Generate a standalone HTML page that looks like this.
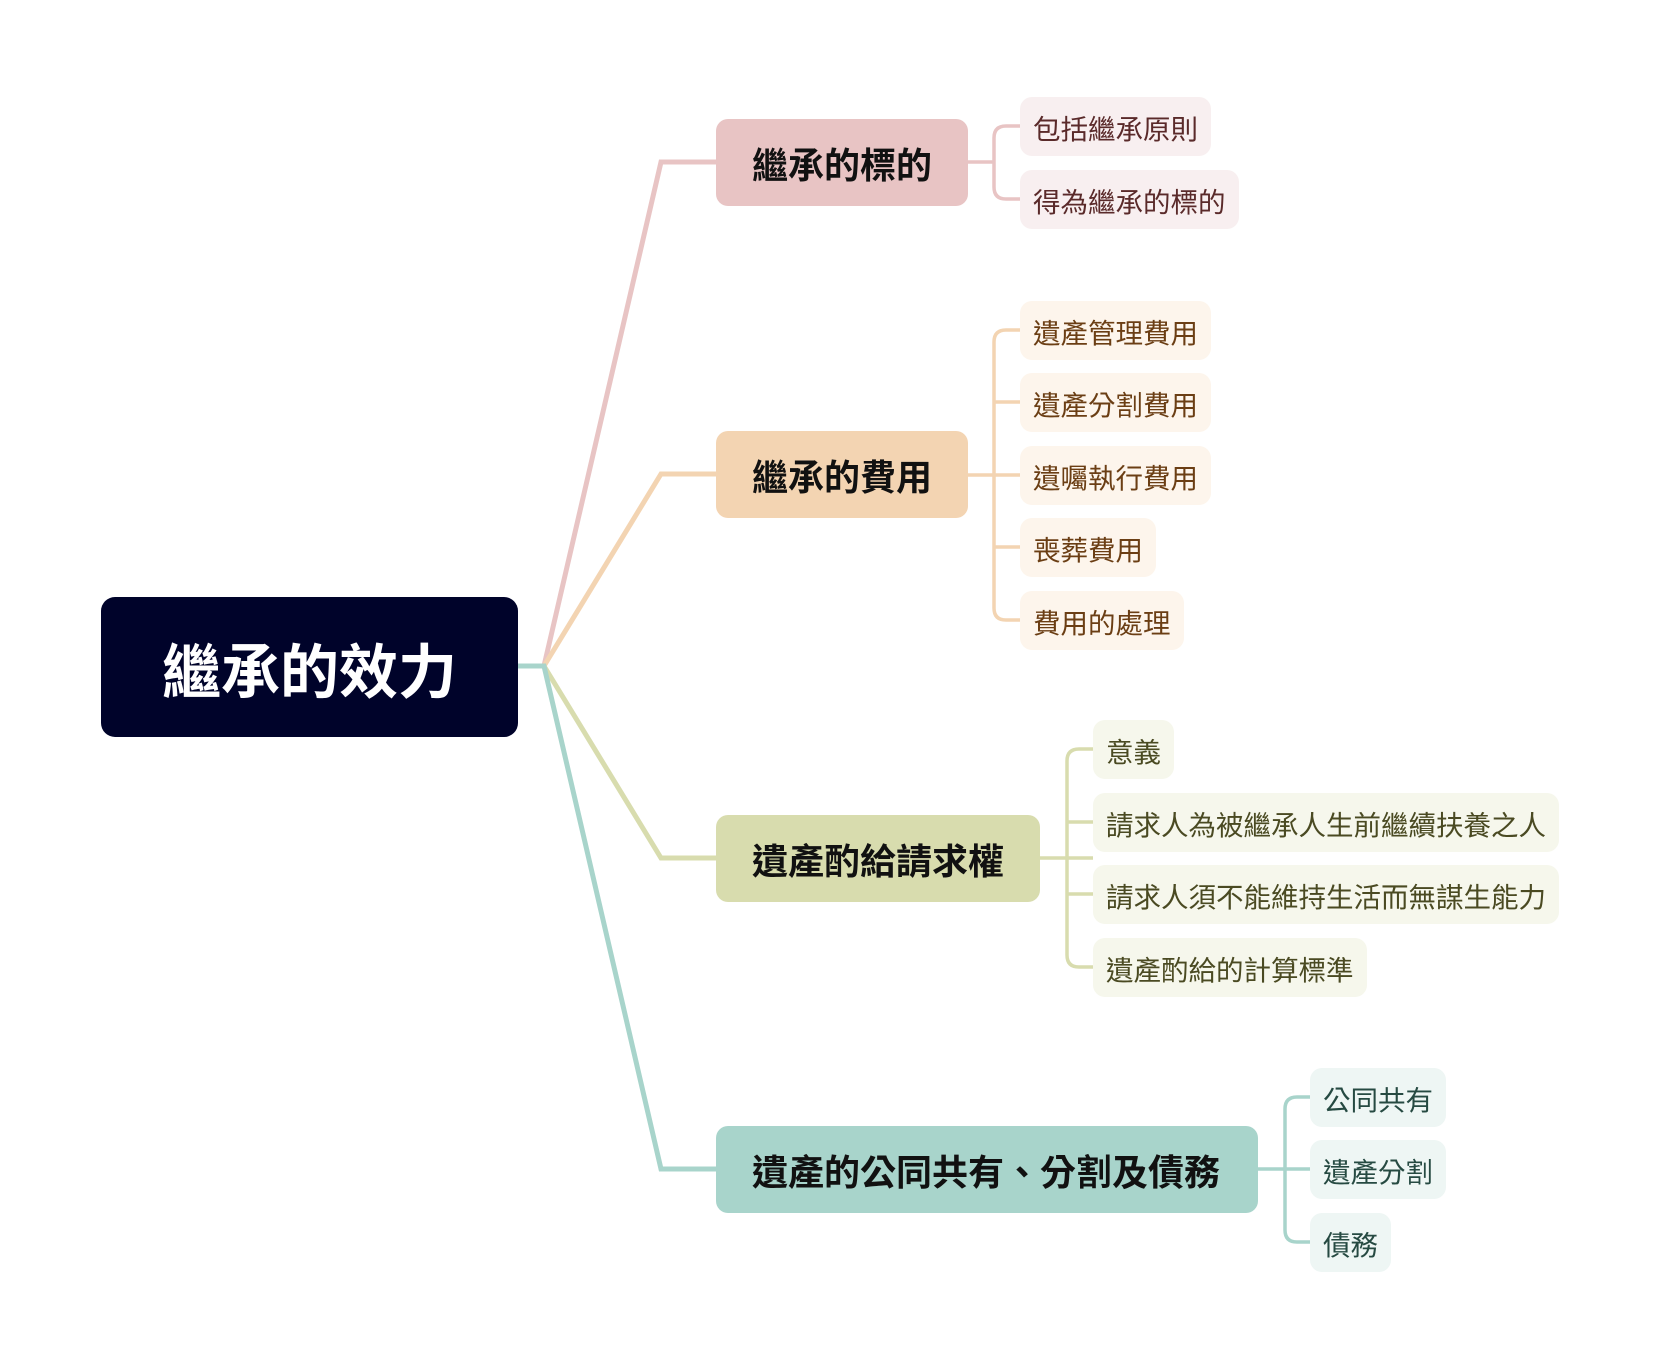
<!DOCTYPE html>
<html><head><meta charset="utf-8"><style>
body{margin:0;width:1664px;height:1370px;background:#fff;position:relative;overflow:hidden;font-family:"Liberation Sans","Noto Sans CJK TC",sans-serif}
.b{position:absolute;display:flex;align-items:center;box-sizing:border-box;border-radius:12px;white-space:nowrap}
.r{left:101px;top:597px;width:417px;height:140px;background:#00032a;color:#fff;font-size:59px;font-weight:bold;justify-content:center;border-radius:14px}
.m{left:716px;height:87px;font-size:36px;font-weight:bold;color:#111;padding-left:36px}
.l{height:59px;font-size:27.5px;padding:0 13px}
.c1{background:#f8eff0;color:#5a2a2a}.c2{background:#fdf5ec;color:#6b3e14}.c3{background:#f6f7ec;color:#4a4a22}.c4{background:#eef6f4;color:#264a42}
</style></head><body>
<svg width="1664" height="1370" style="position:absolute;left:0;top:-4px" fill="none" stroke-width="5">
<path d="M518 670H544L661 166H716" stroke="#e8c4c4"/>
<path d="M544 670L661 478H716" stroke="#f3d4b2"/>
<path d="M544 670L661 862H716" stroke="#d8dcae"/>
<path d="M518 670H544L661 1173H716" stroke="#a8d4cb"/>
<g stroke-width="3.5">
<path d="M968 166H994M1020 130H1006Q994 130 994 142V191Q994 203 1006 203H1020" stroke="#e8c4c4"/>
<path d="M968 479H1020M1020 334H1006Q994 334 994 346V612Q994 624 1006 624H1020M994 406H1020M994 551H1020" stroke="#f3d4b2"/>
<path d="M1040 862H1093M1093 753H1079Q1067 753 1067 765V959Q1067 971 1079 971H1093M1067 826H1093M1067 898H1093" stroke="#d8dcae"/>
<path d="M1258 1173H1310M1310 1101H1297Q1285 1101 1285 1113V1234Q1285 1246 1297 1246H1310" stroke="#a8d4cb"/>
</g></svg>
<div class="b r">繼承的效力</div>
<div class="b m" style="top:119px;width:252px;background:#e8c4c4">繼承的標的</div>
<div class="b m" style="top:431px;width:252px;background:#f3d4b2">繼承的費用</div>
<div class="b m" style="top:815px;width:324px;background:#d8dcae">遺產酌給請求權</div>
<div class="b m" style="top:1126px;width:542px;background:#a8d4cb">遺產的公同共有、分割及債務</div>
<div class="b l c1" style="left:1020px;top:97px">包括繼承原則</div>
<div class="b l c1" style="left:1020px;top:170px">得為繼承的標的</div>
<div class="b l c2" style="left:1020px;top:301px">遺產管理費用</div>
<div class="b l c2" style="left:1020px;top:373px">遺產分割費用</div>
<div class="b l c2" style="left:1020px;top:446px">遺囑執行費用</div>
<div class="b l c2" style="left:1020px;top:518px">喪葬費用</div>
<div class="b l c2" style="left:1020px;top:591px">費用的處理</div>
<div class="b l c3" style="left:1093px;top:720px">意義</div>
<div class="b l c3" style="left:1093px;top:793px">請求人為被繼承人生前繼續扶養之人</div>
<div class="b l c3" style="left:1093px;top:865px">請求人須不能維持生活而無謀生能力</div>
<div class="b l c3" style="left:1093px;top:938px">遺產酌給的計算標準</div>
<div class="b l c4" style="left:1310px;top:1068px">公同共有</div>
<div class="b l c4" style="left:1310px;top:1140px">遺產分割</div>
<div class="b l c4" style="left:1310px;top:1213px">債務</div>
</body></html>
